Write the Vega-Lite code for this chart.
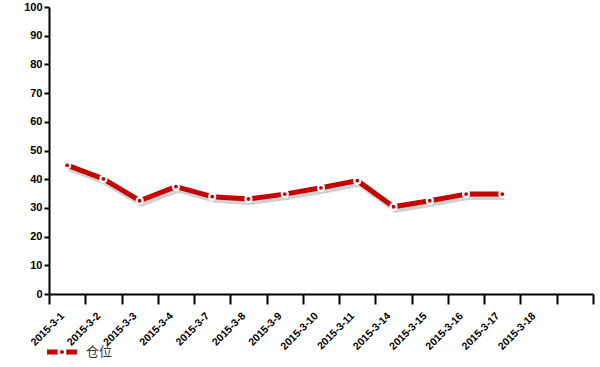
{
  "$schema": "https://vega.github.io/schema/vega-lite/v6.json",
  "width": 544,
  "height": 287,
  "autosize": {"type": "none"},
  "padding": {"left": 49, "top": 7, "right": 7, "bottom": 73},
  "background": "white",
  "config": {
    "view": {"stroke": null},
    "axis": {
      "domainColor": "#000",
      "domainWidth": 2,
      "tickColor": "#000",
      "tickWidth": 2,
      "labelFont": "Liberation Sans",
      "labelFontWeight": "bold",
      "labelFontSize": 11,
      "labelColor": "#000",
      "grid": false,
      "title": null
    }
  },
  "data": {
    "values": [
      {"date": "2015-3-1", "value": 44.9, "s": "仓位"},
      {"date": "2015-3-2", "value": 40.1, "s": "仓位"},
      {"date": "2015-3-3", "value": 32.5, "s": "仓位"},
      {"date": "2015-3-4", "value": 37.4, "s": "仓位"},
      {"date": "2015-3-7", "value": 33.9, "s": "仓位"},
      {"date": "2015-3-8", "value": 33.1, "s": "仓位"},
      {"date": "2015-3-9", "value": 34.8, "s": "仓位"},
      {"date": "2015-3-10", "value": 37.0, "s": "仓位"},
      {"date": "2015-3-11", "value": 39.5, "s": "仓位"},
      {"date": "2015-3-14", "value": 30.4, "s": "仓位"},
      {"date": "2015-3-15", "value": 32.5, "s": "仓位"},
      {"date": "2015-3-16", "value": 34.8, "s": "仓位"},
      {"date": "2015-3-17", "value": 34.8, "s": "仓位"}
    ]
  },
  "encoding": {
    "x": {
      "field": "date",
      "type": "nominal",
      "sort": null,
      "scale": {
        "type": "band",
        "paddingInner": 0,
        "paddingOuter": 0,
        "domain": ["2015-3-1", "2015-3-2", "2015-3-3", "2015-3-4", "2015-3-7", "2015-3-8", "2015-3-9", "2015-3-10", "2015-3-11", "2015-3-14", "2015-3-15", "2015-3-16", "2015-3-17", "2015-3-18", ""]
      },
      "axis": {
        "tickBand": "extent",
        "tickSize": 10,
        "labelAngle": -45,
        "labelAlign": "right",
        "labelBaseline": "middle",
        "labelPadding": 10,
        "labelOffset": -5,
        "labelFontSize": 10.5
      }
    },
    "y": {
      "field": "value",
      "type": "quantitative",
      "scale": {"domain": [0, 100], "nice": false},
      "axis": {"values": [0, 10, 20, 30, 40, 50, 60, 70, 80, 90, 100], "tickSize": 5, "labelPadding": 2}
    }
  },
  "layer": [
    {
      "mark": {"type": "line", "color": "#000", "opacity": 0.18, "strokeWidth": 6, "xOffset": 2, "yOffset": 3, "strokeJoin": "round"}
    },
    {
      "mark": {"type": "line", "strokeWidth": 5, "strokeJoin": "round"},
      "encoding": {
        "color": {
          "field": "s",
          "type": "nominal",
          "scale": {"domain": ["仓位"], "range": ["#c80000"]},
          "legend": {
            "title": null,
            "orient": "none",
            "legendX": -2,
            "legendY": 330,
            "padding": 0,
            "symbolType": "M-1,-0.167H-0.249A0.3,0.3 0 0,0 -0.249,0.167H-1Z M1,-0.167H0.249A0.3,0.3 0 0,1 0.249,0.167H1Z M0.133,0A0.133,0.133 0 1,1 -0.133,0A0.133,0.133 0 1,1 0.133,0Z",
            "symbolSize": 900,
            "symbolStrokeWidth": 0,
            "symbolFillColor": "#c80000",
            "labelFont": "Noto Sans CJK SC",
            "labelFontSize": 13,
            "labelColor": "#333",
            "labelOffset": 9,
            "encode": {
              "symbols": {"update": {"fill": {"value": "#c80000"}, "strokeWidth": {"value": 0}, "opacity": {"value": 1}}}
            }
          }
        }
      }
    },
    {
      "mark": {"type": "point", "shape": "circle", "filled": true, "fill": "#c80000", "stroke": "#fff", "strokeWidth": 2.2, "size": 36, "opacity": 1}
    }
  ]
}
